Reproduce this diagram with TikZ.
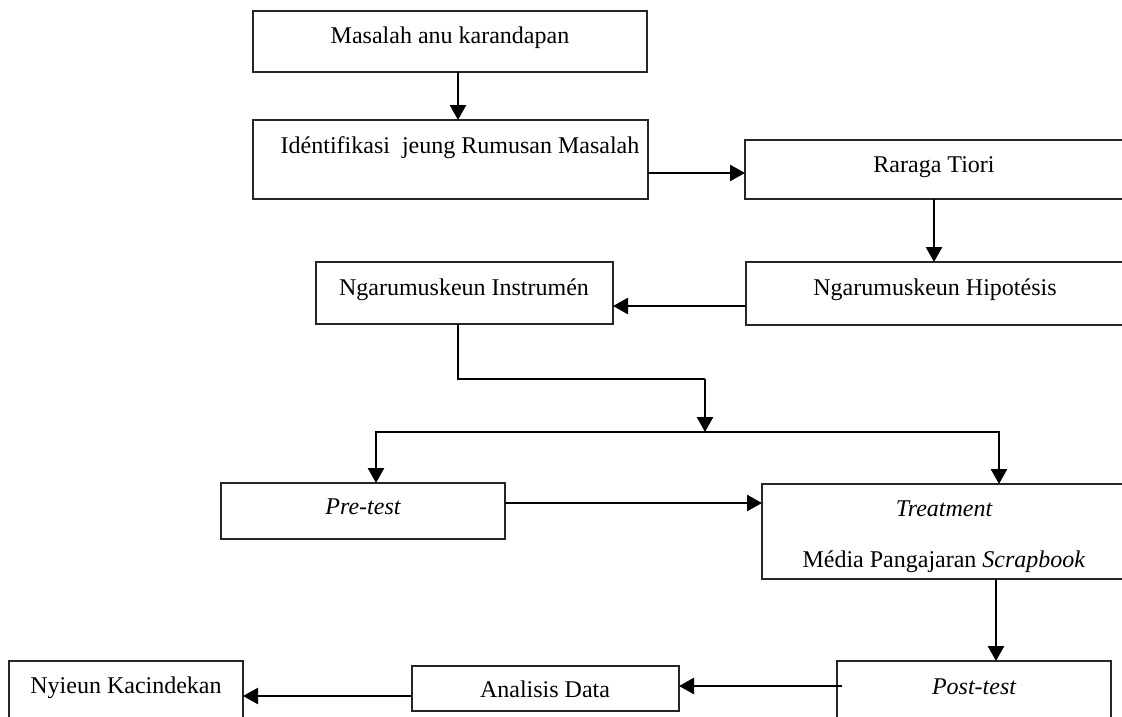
\documentclass[tikz,border=0pt]{standalone}
\usepackage{fontspec}
\setmainfont{Liberation Serif}
\usetikzlibrary{arrows.meta}
\begin{document}
\begin{tikzpicture}[x=1pt,y=-1pt,
  box/.style={draw=black!85, line width=1.3pt, inner sep=0pt, outer sep=0pt},
  lbl/.style={anchor=base, inner sep=0pt, font=\fontsize{24}{28}\selectfont},
  arr/.style={line width=2.5pt, -{Triangle[length=15pt,width=16pt]}},
  ln/.style={line width=2.5pt}]
\useasboundingbox (0,0) rectangle (1122,716);
% boxes
\node[box, minimum width=394pt, minimum height=61pt] (b1) at (450,41.5) {};
\node[box, minimum width=395pt, minimum height=79pt] (b2) at (450.5,159.5) {};
\node[box, minimum width=378pt, minimum height=59pt] (b3) at (934,169.5) {};
\node[box, minimum width=377pt, minimum height=63pt] (b4) at (934.5,293.5) {};
\node[box, minimum width=297pt, minimum height=62pt] (b5) at (464.5,293) {};
\node[box, minimum width=284pt, minimum height=56pt] (b6) at (363,511) {};
\node[box, minimum width=361pt, minimum height=95pt] (b7) at (942.5,531.5) {};
\node[box, minimum width=274pt, minimum height=59pt] (b8) at (974,690.5) {};
\node[box, minimum width=267pt, minimum height=45pt] (b9) at (545.5,688.5) {};
\node[box, minimum width=234pt, minimum height=59pt] (b10) at (126,690.5) {};
% labels
\node[lbl] (t1) at (450,43) {Masalah anu karandapan};
\node[lbl] (t2) at (460,153) {Idéntifikasi\ \ jeung Rumusan Masalah};
\node[lbl] (t3) at (934,172) {Raraga Tiori};
\node[lbl] (t4) at (935,295) {Ngarumuskeun Hipotésis};
\node[lbl] (t5) at (464,295) {Ngarumuskeun Instrumén};
\node[lbl] (t6) at (363,514) {\itshape Pre-test};
\node[lbl] (t7a) at (944,516) {\itshape Treatment};
\node[lbl] (t7b) at (944,567) {Média Pangajaran \textit{Scrapbook}};
\node[lbl] (t8) at (974,694) {\itshape Post-test};
\node[lbl] (t9) at (545,697) {Analisis Data};
\node[lbl] (t10) at (126,693) {Nyieun Kacindekan};
% junction coordinates
\coordinate (bend) at (705,379);
\coordinate (split) at (705,432);
\coordinate (bL) at (376,432);
\coordinate (bR) at (999,432);
% connectors
\draw[arr] ([xshift=8pt]b1.south) -- ([xshift=8pt]b1.south |- b2.north);
\draw[arr] ([yshift=-13.5pt]b2.east) -- ([yshift=-13.5pt]b2.east -| b3.west);
\draw[arr] (b3.south) -- (b3.south |- b4.north);
\draw[arr] ([yshift=-12.5pt]b4.west) -- ([yshift=-12.5pt]b4.west -| b5.east);
\draw[ln] ([xshift=-6.5pt]b5.south) |- (bend);
\draw[arr] (bend) -- (split);
\draw[ln, line cap=rect] (bL) -- (bR);
\draw[arr] (bL) -- (bL |- b6.north);
\draw[arr] (bR) -- (bR |- b7.north);
\draw[arr] ([yshift=8pt]b6.east) -- ([yshift=8pt]b6.east -| b7.west);
\draw[arr] ([xshift=53.5pt]b7.south) -- ([xshift=53.5pt]b7.south |- b8.north);
\draw[arr] ([xshift=5pt,yshift=4.5pt]b8.west) -- ([yshift=4.5pt]b8.west -| b9.east);
\draw[arr] ([yshift=-7.5pt]b9.west) -- ([yshift=-7.5pt]b9.west -| b10.east);
\end{tikzpicture}
\end{document}
